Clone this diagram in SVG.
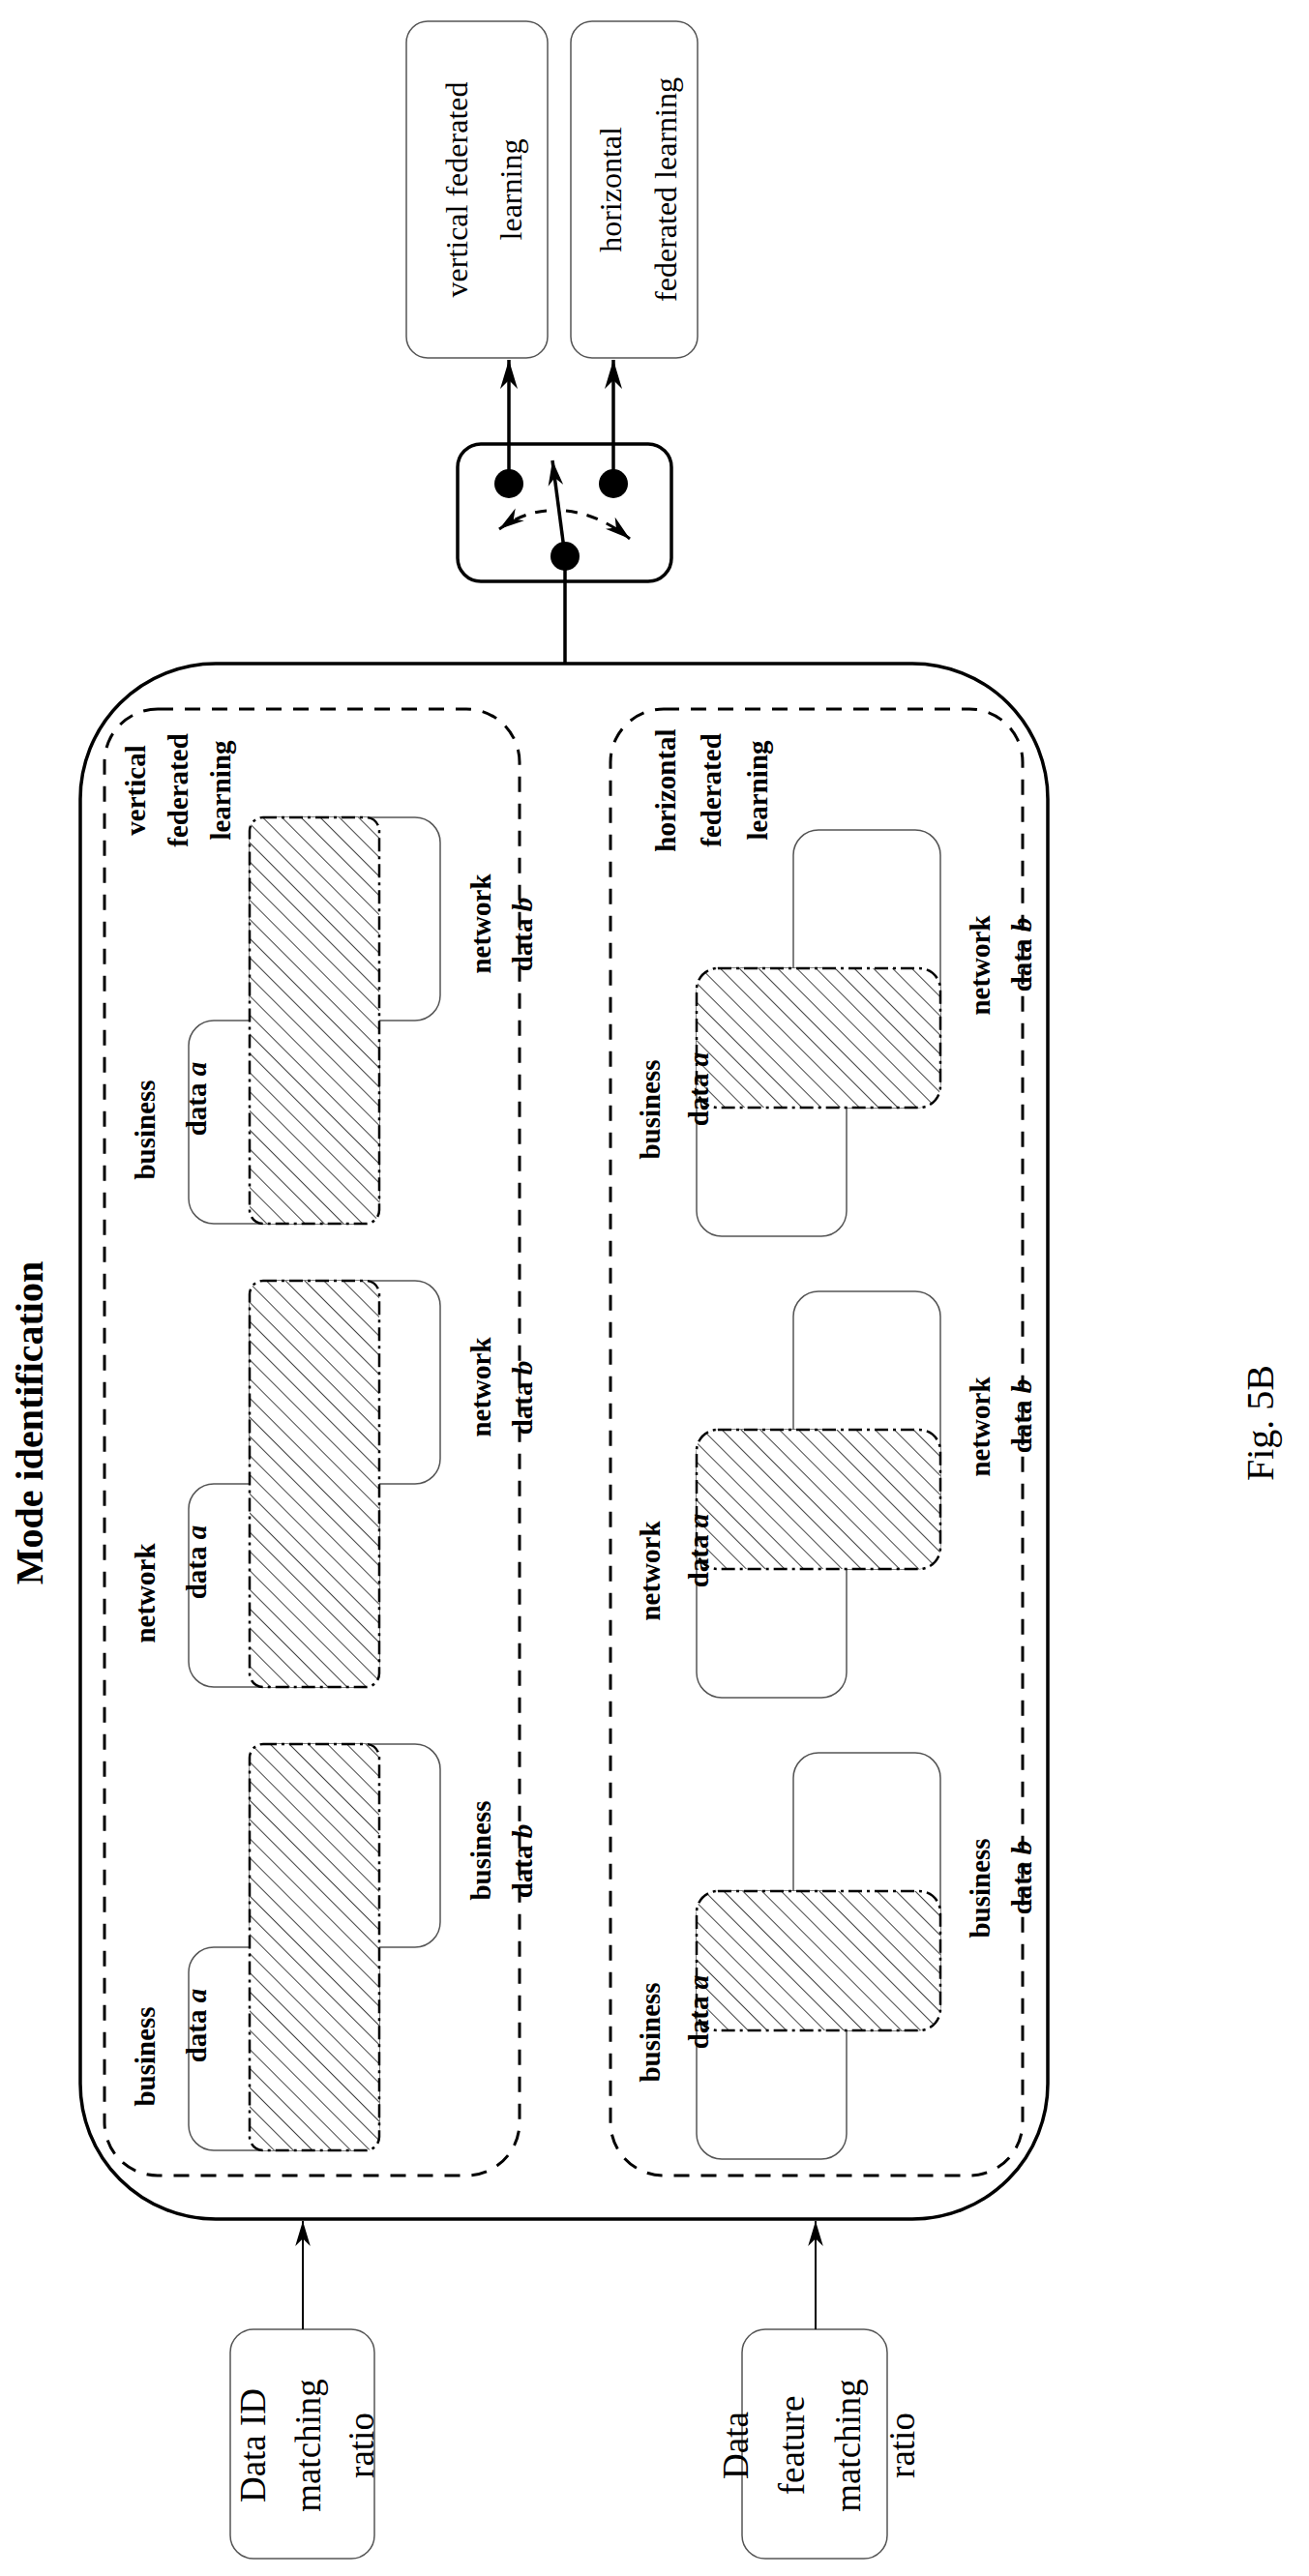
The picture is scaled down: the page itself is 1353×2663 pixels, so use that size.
<svg xmlns="http://www.w3.org/2000/svg" width="1353" height="2663" viewBox="0 0 1353 2663">
<style>
.t{font-family:"Liberation Serif",serif;fill:#000}
.r{font-size:32px}
.in{font-size:37px}
.b{font-size:29px;font-weight:bold}
.box{fill:#fff;stroke:#666;stroke-width:2}
.dbox{fill:none;stroke:#000;stroke-width:3;stroke-dasharray:16 12}
.hat{fill:url(#hatch);stroke:#000;stroke-width:2.5;stroke-dasharray:14 5 3 5}
.thin{stroke:#555;stroke-width:1.5;fill:#fff}
</style>
<defs>
<pattern id="hatch" width="14" height="14" patternUnits="userSpaceOnUse" patternTransform="rotate(-45)">
<rect width="14" height="14" fill="#fff"/>
<line x1="0" y1="0" x2="0" y2="14" stroke="#444" stroke-width="2"/>
</pattern>
<marker id="ah" viewBox="0 0 10 10" refX="10" refY="5" markerWidth="9" markerHeight="9" markerUnits="userSpaceOnUse" orient="auto">
</marker>
<marker id="arr" viewBox="0 0 20 12" refX="20" refY="6" markerWidth="30" markerHeight="18" markerUnits="userSpaceOnUse" orient="auto">
<path d="M0,0 L20,6 L0,12 L6,6 Z" fill="#000"/>
</marker>
<marker id="arrs" viewBox="0 0 20 12" refX="20" refY="6" markerWidth="26" markerHeight="16" markerUnits="userSpaceOnUse" orient="auto">
<path d="M0,0 L20,6 L0,12 L6,6 Z" fill="#000"/>
</marker>
</defs>

<g id="title"><text class="t" font-size="40" font-weight="bold" transform="translate(30,1471) rotate(-90)" text-anchor="middle" dominant-baseline="central">Mode identification</text></g>
<g id="fig"><text class="t" font-size="40" transform="translate(1302,1471) rotate(-90)" text-anchor="middle" dominant-baseline="central">Fig. 5B</text></g>

<g id="out-vfl"><rect class="thin" x="420" y="22" width="146" height="348" rx="22"/>
<text class="t r" transform="translate(472,196) rotate(-90)" text-anchor="middle" dominant-baseline="central">vertical federated</text>
<text class="t r" transform="translate(528,196) rotate(-90)" text-anchor="middle" dominant-baseline="central">learning</text></g>
<g id="out-hfl"><rect class="thin" x="590" y="22" width="131" height="348" rx="22"/>
<text class="t r" transform="translate(631,196) rotate(-90)" text-anchor="middle" dominant-baseline="central">horizontal</text>
<text class="t r" transform="translate(688,196) rotate(-90)" text-anchor="middle" dominant-baseline="central">federated learning</text></g>

<g id="switch"><rect x="473" y="459" width="221" height="142" rx="24" fill="#fff" stroke="#000" stroke-width="3.5"/>
<circle cx="526" cy="500" r="15"/><circle cx="634" cy="500" r="15"/><circle cx="584" cy="575" r="15"/>
<line x1="584" y1="575" x2="571" y2="476" stroke="#000" stroke-width="3.5" marker-end="url(#arrs)"/>
<path d="M 585 528 Q 620 532 651 557" fill="none" stroke="#000" stroke-width="3" stroke-dasharray="12 10" marker-end="url(#arrs)"/>
<path d="M 565 528 Q 540 530 516 547" fill="none" stroke="#000" stroke-width="3" stroke-dasharray="12 10" marker-end="url(#arrs)"/></g>

<g id="in-id"><rect class="thin" x="238" y="2408" width="149" height="237" rx="24"/>
<text class="t in" transform="translate(261,2528) rotate(-90)" text-anchor="middle" dominant-baseline="central">Data ID</text>
<text class="t in" transform="translate(318,2528) rotate(-90)" text-anchor="middle" dominant-baseline="central">matching</text>
<text class="t in" transform="translate(373,2528) rotate(-90)" text-anchor="middle" dominant-baseline="central">ratio</text></g>
<g id="in-feat"><rect class="thin" x="767" y="2408" width="150" height="237" rx="24"/>
<text class="t in" transform="translate(760,2528) rotate(-90)" text-anchor="middle" dominant-baseline="central">Data</text>
<text class="t in" transform="translate(818,2528) rotate(-90)" text-anchor="middle" dominant-baseline="central">feature</text>
<text class="t in" transform="translate(876,2528) rotate(-90)" text-anchor="middle" dominant-baseline="central">matching</text>
<text class="t in" transform="translate(932,2528) rotate(-90)" text-anchor="middle" dominant-baseline="central">ratio</text></g>

<g id="mode">
<rect x="83" y="686" width="1000" height="1608" rx="140" fill="none" stroke="#000" stroke-width="3.5"/>
<rect class="dbox" x="108" y="733" width="429" height="1516" rx="55"/>
<rect class="dbox" x="631" y="733" width="426" height="1516" rx="55"/>
</g>

<g id="vertical-group">
<text class="t b" transform="translate(140,817) rotate(-90)" text-anchor="middle" dominant-baseline="central">vertical</text>
<text class="t b" transform="translate(184,817) rotate(-90)" text-anchor="middle" dominant-baseline="central">federated</text>
<text class="t b" transform="translate(228,817) rotate(-90)" text-anchor="middle" dominant-baseline="central">learning</text>
<g id="v1">
<rect class="thin" x="195" y="1055" width="197" height="210" rx="26"/>
<rect class="thin" x="258" y="845" width="197" height="210" rx="26"/>
<rect class="hat" x="258" y="845" width="134" height="420" rx="14"/>
<text class="t b" transform="translate(150,1168) rotate(-90)" text-anchor="middle" dominant-baseline="central">business</text>
<text class="t b" transform="translate(203,1136) rotate(-90)" text-anchor="middle" dominant-baseline="central">data <tspan font-style="italic">a</tspan></text>
<text class="t b" transform="translate(497,955) rotate(-90)" text-anchor="middle" dominant-baseline="central">network</text>
<text class="t b" transform="translate(540,966) rotate(-90)" text-anchor="middle" dominant-baseline="central">data <tspan font-style="italic">b</tspan></text>
</g>
<g id="v2">
<rect class="thin" x="195" y="1534" width="197" height="210" rx="26"/>
<rect class="thin" x="258" y="1324" width="197" height="210" rx="26"/>
<rect class="hat" x="258" y="1324" width="134" height="420" rx="14"/>
<text class="t b" transform="translate(150,1647) rotate(-90)" text-anchor="middle" dominant-baseline="central">network</text>
<text class="t b" transform="translate(203,1615) rotate(-90)" text-anchor="middle" dominant-baseline="central">data <tspan font-style="italic">a</tspan></text>
<text class="t b" transform="translate(497,1434) rotate(-90)" text-anchor="middle" dominant-baseline="central">network</text>
<text class="t b" transform="translate(540,1445) rotate(-90)" text-anchor="middle" dominant-baseline="central">data <tspan font-style="italic">b</tspan></text>
</g>
<g id="v3">
<rect class="thin" x="195" y="2013" width="197" height="210" rx="26"/>
<rect class="thin" x="258" y="1803" width="197" height="210" rx="26"/>
<rect class="hat" x="258" y="1803" width="134" height="420" rx="14"/>
<text class="t b" transform="translate(150,2126) rotate(-90)" text-anchor="middle" dominant-baseline="central">business</text>
<text class="t b" transform="translate(203,2094) rotate(-90)" text-anchor="middle" dominant-baseline="central">data <tspan font-style="italic">a</tspan></text>
<text class="t b" transform="translate(497,1913) rotate(-90)" text-anchor="middle" dominant-baseline="central">business</text>
<text class="t b" transform="translate(540,1924) rotate(-90)" text-anchor="middle" dominant-baseline="central">data <tspan font-style="italic">b</tspan></text>
</g>
</g>

<g id="horizontal-group">
<text class="t b" transform="translate(688,817) rotate(-90)" text-anchor="middle" dominant-baseline="central">horizontal</text>
<text class="t b" transform="translate(735,817) rotate(-90)" text-anchor="middle" dominant-baseline="central">federated</text>
<text class="t b" transform="translate(783,817) rotate(-90)" text-anchor="middle" dominant-baseline="central">learning</text>
<g id="h1">
<rect class="thin" x="820" y="858" width="152" height="287" rx="26"/>
<rect class="thin" x="720" y="1001" width="155" height="277" rx="26"/>
<rect class="hat" x="720" y="1001" width="252" height="144" rx="22"/>
<text class="t b" transform="translate(672,1147) rotate(-90)" text-anchor="middle" dominant-baseline="central">business</text>
<text class="t b" transform="translate(722,1126) rotate(-90)" text-anchor="middle" dominant-baseline="central">data <tspan font-style="italic">a</tspan></text>
<text class="t b" transform="translate(1013,998) rotate(-90)" text-anchor="middle" dominant-baseline="central">network</text>
<text class="t b" transform="translate(1056,987) rotate(-90)" text-anchor="middle" dominant-baseline="central">data <tspan font-style="italic">b</tspan></text>
</g>
<g id="h2">
<rect class="thin" x="820" y="1335" width="152" height="287" rx="26"/>
<rect class="thin" x="720" y="1478" width="155" height="277" rx="26"/>
<rect class="hat" x="720" y="1478" width="252" height="144" rx="22"/>
<text class="t b" transform="translate(672,1624) rotate(-90)" text-anchor="middle" dominant-baseline="central">network</text>
<text class="t b" transform="translate(722,1603) rotate(-90)" text-anchor="middle" dominant-baseline="central">data <tspan font-style="italic">a</tspan></text>
<text class="t b" transform="translate(1013,1475) rotate(-90)" text-anchor="middle" dominant-baseline="central">network</text>
<text class="t b" transform="translate(1056,1464) rotate(-90)" text-anchor="middle" dominant-baseline="central">data <tspan font-style="italic">b</tspan></text>
</g>
<g id="h3">
<rect class="thin" x="820" y="1812" width="152" height="287" rx="26"/>
<rect class="thin" x="720" y="1955" width="155" height="277" rx="26"/>
<rect class="hat" x="720" y="1955" width="252" height="144" rx="22"/>
<text class="t b" transform="translate(672,2101) rotate(-90)" text-anchor="middle" dominant-baseline="central">business</text>
<text class="t b" transform="translate(722,2080) rotate(-90)" text-anchor="middle" dominant-baseline="central">data <tspan font-style="italic">a</tspan></text>
<text class="t b" transform="translate(1013,1952) rotate(-90)" text-anchor="middle" dominant-baseline="central">business</text>
<text class="t b" transform="translate(1056,1941) rotate(-90)" text-anchor="middle" dominant-baseline="central">data <tspan font-style="italic">b</tspan></text>
</g>
</g>

<g id="connectors" stroke="#000" fill="none">
<line x1="313" y1="2408" x2="313" y2="2296" stroke-width="2" marker-end="url(#arrs)"/>
<line x1="843" y1="2408" x2="843" y2="2296" stroke-width="2" marker-end="url(#arrs)"/>
<line x1="584" y1="686" x2="584" y2="575" stroke-width="3.5"/>
<line x1="526" y1="500" x2="526" y2="372" stroke-width="3.5" marker-end="url(#arr)"/>
<line x1="634" y1="500" x2="634" y2="372" stroke-width="3.5" marker-end="url(#arr)"/>
</g>
</svg>
